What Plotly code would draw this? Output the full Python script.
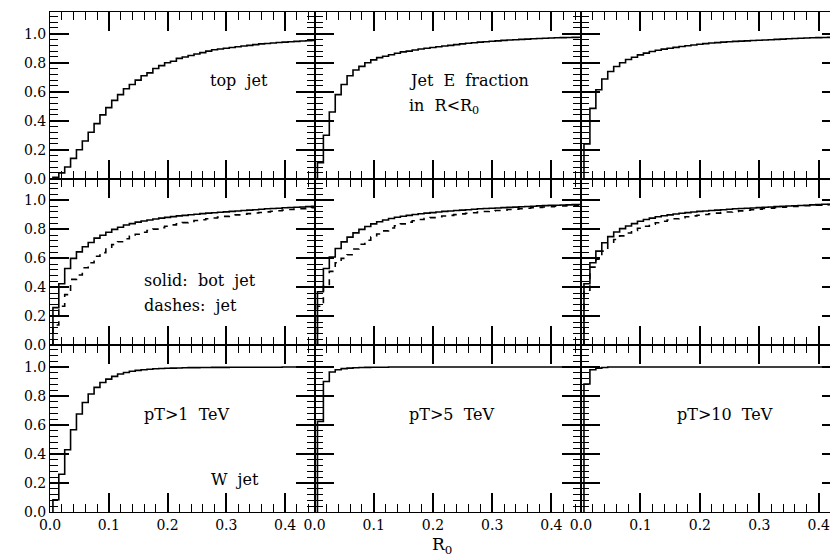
import plotly.graph_objects as go

# cumulative jet energy fraction in R < R0, bins of 0.01 in R0
r_edges = [0.005 + 0.01 * i for i in range(46)]

top_1 = [0.01, 0.04, 0.08, 0.14, 0.20, 0.26, 0.32, 0.38, 0.44, 0.49,
         0.54, 0.58, 0.62, 0.65, 0.68, 0.71, 0.73, 0.76, 0.78, 0.80,
         0.81, 0.83, 0.84, 0.85, 0.86, 0.87, 0.88, 0.89, 0.895, 0.90,
         0.905, 0.91, 0.915, 0.92, 0.925, 0.93, 0.933, 0.936, 0.94, 0.942,
         0.945, 0.947, 0.95, 0.952, 0.954]
top_5 = [0.11, 0.30, 0.46, 0.58, 0.65, 0.71, 0.75, 0.775, 0.80, 0.82,
         0.835, 0.845, 0.855, 0.865, 0.875, 0.88, 0.888, 0.895, 0.90, 0.905,
         0.91, 0.915, 0.92, 0.925, 0.93, 0.934, 0.938, 0.942, 0.945, 0.948,
         0.951, 0.954, 0.957, 0.959, 0.961, 0.963, 0.965, 0.967, 0.969, 0.971,
         0.972, 0.973, 0.974, 0.975, 0.976]
top_10 = [0.24, 0.485, 0.614, 0.688, 0.739, 0.774, 0.80, 0.822, 0.838, 0.854,
          0.866, 0.877, 0.886, 0.894, 0.90, 0.906, 0.912, 0.917, 0.922, 0.927,
          0.932, 0.936, 0.939, 0.942, 0.945, 0.947, 0.949, 0.951, 0.953, 0.955,
          0.957, 0.959, 0.961, 0.963, 0.965, 0.967, 0.969, 0.971, 0.972, 0.973,
          0.974, 0.975, 0.976, 0.977, 0.978]

bot_1 = [0.26, 0.425, 0.53, 0.60, 0.645, 0.68, 0.71, 0.74, 0.76, 0.78,
         0.80, 0.815, 0.83, 0.84, 0.85, 0.858, 0.865, 0.872, 0.878, 0.883,
         0.888, 0.893, 0.897, 0.901, 0.905, 0.909, 0.912, 0.915, 0.918, 0.921,
         0.924, 0.927, 0.93, 0.933, 0.936, 0.939, 0.942, 0.944, 0.946, 0.949,
         0.951, 0.953, 0.955, 0.957, 0.959]
bot_5 = [0.37, 0.53, 0.61, 0.668, 0.714, 0.747, 0.776, 0.80, 0.82, 0.838,
         0.853, 0.865, 0.875, 0.884, 0.891, 0.897, 0.903, 0.908, 0.912, 0.916,
         0.92, 0.924, 0.927, 0.93, 0.933, 0.936, 0.939, 0.942, 0.944, 0.946,
         0.948, 0.95, 0.952, 0.954, 0.956, 0.958, 0.96, 0.962, 0.964, 0.966,
         0.967, 0.968, 0.969, 0.971, 0.972]
bot_10 = [0.425, 0.57, 0.65, 0.708, 0.75, 0.782, 0.805, 0.823, 0.84, 0.856,
          0.868, 0.878, 0.887, 0.894, 0.90, 0.906, 0.911, 0.916, 0.92, 0.924,
          0.927, 0.93, 0.933, 0.936, 0.939, 0.942, 0.944, 0.946, 0.948, 0.95,
          0.953, 0.955, 0.957, 0.959, 0.961, 0.963, 0.965, 0.967, 0.969, 0.971,
          0.973, 0.974, 0.975, 0.976, 0.977]

jet_1 = [0.14, 0.27, 0.35, 0.455, 0.485, 0.535, 0.57, 0.615, 0.64, 0.67,
         0.695, 0.715, 0.735, 0.752, 0.766, 0.78, 0.792, 0.802, 0.812, 0.822,
         0.831, 0.839, 0.847, 0.854, 0.861, 0.867, 0.873, 0.879, 0.885, 0.89,
         0.895, 0.90, 0.905, 0.909, 0.913, 0.917, 0.921, 0.925, 0.929, 0.933,
         0.937, 0.94, 0.943, 0.946, 0.949]
jet_5 = [0.27, 0.42, 0.51, 0.57, 0.60, 0.625, 0.665, 0.697, 0.725, 0.748,
         0.768, 0.79, 0.81, 0.825, 0.838, 0.85, 0.86, 0.868, 0.875, 0.881,
         0.887, 0.892, 0.897, 0.902, 0.907, 0.911, 0.915, 0.919, 0.923, 0.927,
         0.93, 0.933, 0.937, 0.94, 0.943, 0.946, 0.949, 0.952, 0.955, 0.957,
         0.96, 0.962, 0.964, 0.966, 0.968]
jet_10 = [0.38, 0.54, 0.595, 0.65, 0.705, 0.73, 0.755, 0.775, 0.793, 0.808,
          0.822, 0.835, 0.846, 0.856, 0.865, 0.873, 0.88, 0.887, 0.893, 0.898,
          0.903, 0.908, 0.912, 0.916, 0.92, 0.924, 0.928, 0.932, 0.936, 0.94,
          0.944, 0.947, 0.95, 0.953, 0.956, 0.959, 0.961, 0.963, 0.965, 0.967,
          0.969, 0.971, 0.973, 0.974, 0.975]

w_1 = [0.085, 0.26, 0.43, 0.568, 0.676, 0.756, 0.814, 0.86, 0.894, 0.917,
       0.936, 0.952, 0.963, 0.971, 0.977, 0.982, 0.985, 0.988, 0.99, 0.992,
       0.993, 0.994, 0.995, 0.996, 0.996, 0.997, 0.997, 0.998, 0.998, 0.998,
       0.999, 0.999, 0.999, 0.999, 0.999, 0.999, 0.999, 0.999, 0.999, 1.0,
       1.0, 1.0, 1.0, 1.0, 1.0]
w_5 = [0.625, 0.90, 0.966, 0.982, 0.989, 0.993, 0.995, 0.997, 0.998, 0.999,
       0.999, 0.999, 1.0, 1.0, 1.0, 1.0, 1.0, 1.0, 1.0, 1.0,
       1.0, 1.0, 1.0, 1.0, 1.0, 1.0, 1.0, 1.0, 1.0, 1.0,
       1.0, 1.0, 1.0, 1.0, 1.0, 1.0, 1.0, 1.0, 1.0, 1.0,
       1.0, 1.0, 1.0, 1.0, 1.0]
w_10 = [0.883, 0.982, 0.993, 0.997, 1.0, 1.0, 1.0, 1.0, 1.0, 1.0,
        1.0, 1.0, 1.0, 1.0, 1.0, 1.0, 1.0, 1.0, 1.0, 1.0,
        1.0, 1.0, 1.0, 1.0, 1.0, 1.0, 1.0, 1.0, 1.0, 1.0,
        1.0, 1.0, 1.0, 1.0, 1.0, 1.0, 1.0, 1.0, 1.0, 1.0,
        1.0, 1.0, 1.0, 1.0, 1.0]

FONT = "DejaVu Serif"
col_dom = [[0, 0.3344], [0.3344, 0.6713], [0.6713, 1.0]]
row_dom = [[2 / 3, 1.0], [1 / 3, 2 / 3], [0, 1 / 3]]
x_max = [0.45, 0.45, 0.4375]

panels = [
    [(top_1, None), (top_5, None), (top_10, None)],
    [(bot_1, jet_1), (bot_5, jet_5), (bot_10, jet_10)],
    [(w_1, None), (w_5, None), (w_10, None)],
]

fig = go.Figure()
layout = dict()
n = 0
for r in range(3):
    for c in range(3):
        n += 1
        sfx = "" if n == 1 else str(n)
        solid, dashed = panels[r][c]
        fig.add_trace(go.Scatter(
            x=r_edges, y=[0] + solid, mode="lines", line_shape="vh",
            line=dict(color="black", width=1.6),
            xaxis="x" + sfx, yaxis="y" + sfx, showlegend=False))
        if dashed is not None:
            fig.add_trace(go.Scatter(
                x=r_edges, y=[0] + dashed, mode="lines", line_shape="vh",
                line=dict(color="black", width=1.6, dash="6px,6px"),
                xaxis="x" + sfx, yaxis="y" + sfx, showlegend=False))
        layout["xaxis" + sfx] = dict(
            domain=col_dom[c], anchor="y" + sfx, range=[0, x_max[c]],
            tickmode="linear", dtick=0.1, tickformat=".1f",
            showticklabels=(r == 2),
            ticks="inside", ticklen=19, tickwidth=2, tickcolor="black",
            minor=dict(ticks="inside", ticklen=8, dtick=0.02,
                       tickwidth=1.3, tickcolor="black"),
            showline=True, linecolor="black", mirror="ticks",
            showgrid=False, zeroline=False,
            tickfont=dict(family=FONT, size=14, color="black"))
        layout["yaxis" + sfx] = dict(
            domain=row_dom[r], anchor="x" + sfx, range=[0, 1.15],
            tickmode="linear", dtick=0.2, tickformat=".1f",
            showticklabels=(c == 0),
            ticks="inside", ticklen=19, tickwidth=2, tickcolor="black",
            minor=dict(ticks="inside", ticklen=8, dtick=0.04,
                       tickwidth=1.3, tickcolor="black"),
            showline=True, linecolor="black", mirror="ticks",
            showgrid=False, zeroline=False,
            tickfont=dict(family=FONT, size=14, color="black"))

labels = [
    ("x", "y", 0.268, 0.676, "top  jet"),
    ("x2", "y2", 0.156, 0.678, "Jet  E  fraction"),
    ("x2", "y2", 0.156, 0.497, "in  R&lt;R<sub>0</sub>"),
    ("x4", "y4", 0.156, 0.448, "solid:  bot  jet"),
    ("x4", "y4", 0.156, 0.272, "dashes:  jet"),
    ("x7", "y7", 0.156, 0.671, "pT&gt;1  TeV"),
    ("x7", "y7", 0.270, 0.223, "W  jet"),
    ("x8", "y8", 0.157, 0.671, "pT&gt;5  TeV"),
    ("x9", "y9", 0.159, 0.671, "pT&gt;10  TeV"),
]
annotations = [
    dict(xref=xr, yref=yr, x=x, y=y, text=t, showarrow=False,
         xanchor="left", yanchor="middle",
         font=dict(family=FONT, size=16, color="black"))
    for xr, yr, x, y, t in labels
]
annotations.append(dict(
    xref="x8", yref="paper", x=0.215, y=-0.066, text="R<sub>0</sub>",
    showarrow=False, xanchor="center", yanchor="middle",
    font=dict(family=FONT, size=17, color="black")))

fig.update_layout(
    **layout,
    annotations=annotations,
    width=838, height=556,
    margin=dict(l=42, r=5, t=4, b=52),
    paper_bgcolor="white", plot_bgcolor="rgba(0,0,0,0)",
    showlegend=False,
)

fig.write_html("out.html")
